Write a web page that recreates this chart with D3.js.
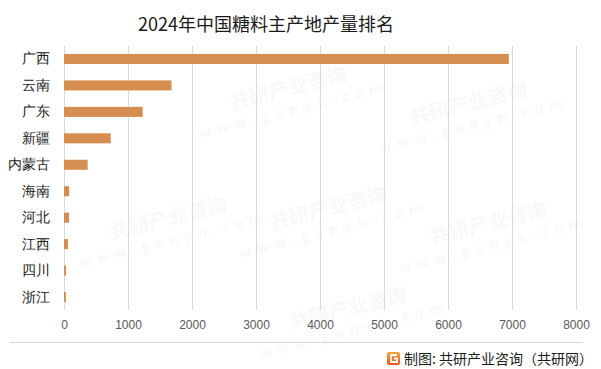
<!DOCTYPE html>
<html>
<head>
<meta charset="utf-8">
<script src="https://cdn.jsdelivr.net/npm/d3@7/dist/d3.min.js"></script>
<style>
  body { margin: 0; background: #fff; }
  svg { display: block; font-family: "Microsoft YaHei", "Noto Sans CJK SC", sans-serif; }
  .title { font-size: 18px; fill: #1a1a1a; text-anchor: middle; }
  .cat text { font-size: 14px; fill: #1a1a1a; }
  .x-axis text { font-size: 12px; fill: #595959; font-family: "Liberation Sans", Arial, sans-serif; }
  .grid line { stroke: #d9d9d9; stroke-width: 1px; shape-rendering: crispEdges; }
  .bar { fill: #d58e4f; }
  .wm { fill: #000; opacity: 0.025; font-weight: bold; }
  .footer { font-size: 14px; fill: #1a1a1a; }
</style>
</head>
<body>
<svg id="chart" width="601" height="369"></svg>
<script>
// data (units: 万吨)
const regions = ['广西', '云南', '广东', '新疆', '内蒙古', '海南', '河北', '江西', '四川', '浙江'];
const output = [6950, 1680, 1230, 730, 370, 80, 78, 62, 32, 30];
const xTicks = [0, 1000, 2000, 3000, 4000, 5000, 6000, 7000, 8000];

const svg = d3.select('#chart');
const margin = { top: 46, right: 25, bottom: 59, left: 64 };
const width = +svg.attr('width') - margin.left - margin.right;
const height = +svg.attr('height') - margin.top - margin.bottom;

// faint watermarks (kept inside the picture)
const wm = svg.append('g');
const spots = [[290, 95], [470, 110], [330, 215], [170, 225], [490, 230], [350, 315]];
spots.forEach(([x, y]) => {
  const g = wm.append('g').attr('transform', 'translate(' + x + ',' + y + ') rotate(-14)');
  g.append('text').attr('class', 'wm').attr('font-size', 20).attr('text-anchor', 'middle').text('共研产业咨询');
  g.append('text').attr('class', 'wm').attr('font-size', 14).attr('y', 20).attr('text-anchor', 'middle')
    .attr('letter-spacing', 6).text('www.gonyn.com');
});

svg.append('text').attr('class', 'title').attr('x', 266).attr('y', 31).text('2024年中国糖料主产地产量排名');

const g = svg.append('g').attr('transform', 'translate(' + margin.left + ',' + margin.top + ')');

const x = d3.scaleLinear().domain([0, 8000]).range([0, width]);
const y = d3.scaleBand().domain(regions).range([0, height]).paddingInner(0.62).paddingOuter(0.3);

g.append('g')
  .attr('class', 'grid')
  .call(d3.axisBottom(x).tickValues(xTicks).tickSize(height).tickFormat(''))
  .call((s) => s.select('.domain').remove());

g.selectAll('.bar')
  .data(regions)
  .enter()
  .append('rect')
  .attr('class', 'bar')
  .attr('x', x(0))
  .attr('y', (d) => y(d))
  .attr('height', y.bandwidth())
  .attr('width', (d, i) => x(output[i]) - x(0));

g.append('g')
  .attr('class', 'cat')
  .call(d3.axisLeft(y).tickSize(0).tickPadding(14))
  .call((s) => s.select('.domain').remove());

g.append('g')
  .attr('class', 'x-axis')
  .attr('transform', 'translate(0,' + height + ')')
  .call(d3.axisBottom(x).tickValues(xTicks).tickSize(0).tickPadding(10).tickFormat(d3.format('d')))
  .call((s) => s.select('.domain').remove());

// footer
svg.append('line').attr('x1', 10).attr('x2', 583).attr('y1', 342.5).attr('y2', 342.5)
  .attr('stroke', '#d9d9d9');

const grad = svg.append('defs').append('linearGradient').attr('id', 'logo').attr('x1', 0).attr('y1', 0).attr('x2', 0).attr('y2', 1);
grad.append('stop').attr('offset', 0).attr('stop-color', '#f7a53b');
grad.append('stop').attr('offset', 1).attr('stop-color', '#e8541e');
const logo = svg.append('g').attr('transform', 'translate(387,352)');
logo.append('rect').attr('width', 13).attr('height', 13).attr('rx', 2).attr('fill', 'url(#logo)');
logo.append('path').attr('d', 'M10,3 H4 V10 H10 V6.5 H7').attr('fill', 'none').attr('stroke', '#fff').attr('stroke-width', 1.8);

svg.append('text').attr('class', 'footer').attr('x', 404).attr('y', 364).text('制图: 共研产业咨询（共研网）');
</script>
</body>
</html>
